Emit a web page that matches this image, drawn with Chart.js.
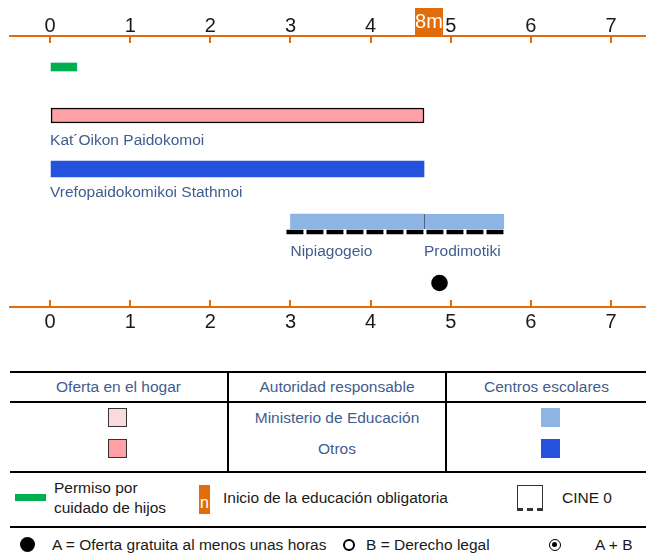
<!DOCTYPE html>
<html><head><meta charset="utf-8">
<script src="https://cdn.jsdelivr.net/npm/chart.js@4/dist/chart.umd.min.js"></script>
<style>
body{margin:0;background:#fff;width:646px;height:560px;position:relative;overflow:hidden;font-family:'Liberation Sans',Arial,sans-serif;color:#1a1a1a;}
#c{position:absolute;left:0;top:0;}
.hl{position:absolute;background:#000;height:2px;}
.vl{position:absolute;background:#000;width:2px;}
.t{position:absolute;font-size:15.5px;white-space:nowrap;line-height:20px;}
.c{text-align:center;}
.blue{color:#3f5d8f;}
.sq{position:absolute;width:19px;height:19px;box-sizing:border-box;}
</style></head><body>
<canvas id="c" width="646" height="340"></canvas>

<!-- legend table -->
<div class="hl" style="left:10px;top:371px;width:636px"></div>
<div class="hl" style="left:10px;top:401px;width:636px"></div>
<div class="vl" style="left:227px;top:371px;height:100px"></div>
<div class="vl" style="left:445px;top:371px;height:100px"></div>
<div class="t c blue" style="left:10px;width:217px;top:377px">Oferta en el hogar</div>
<div class="t c blue" style="left:229px;width:216px;top:377px">Autoridad responsable</div>
<div class="t c blue" style="left:447px;width:199px;top:377px">Centros escolares</div>
<div class="sq" style="left:108px;top:408px;background:#fadadd;border:1px solid #333"></div>
<div class="sq" style="left:108px;top:439px;background:#ff9fa6;border:1px solid #333"></div>
<div class="t c blue" style="left:229px;width:216px;top:408px">Ministerio de Educación</div>
<div class="t c blue" style="left:229px;width:216px;top:439px">Otros</div>
<div class="sq" style="left:541px;top:408px;background:#8db4e2"></div>
<div class="sq" style="left:541px;top:439px;background:#2452dc"></div>

<div class="hl" style="left:10px;top:471px;width:636px"></div>
<div style="position:absolute;left:15px;top:494px;width:31px;height:7px;background:#00b050"></div>
<div class="t" style="left:54px;top:478px">Permiso por<br>cuidado de hijos</div>
<div style="position:absolute;left:199px;top:485px;width:11px;height:29px;background:#e36c0a;color:#fff;font-size:16px;line-height:16px;text-align:center;"><div style="position:absolute;left:0;width:11px;top:10px">n</div></div>
<div class="t" style="left:223px;top:488px">Inicio de la educación obligatoria</div>
<div style="position:absolute;left:517px;top:485px;width:26px;height:26px;box-sizing:border-box;border:1px solid #333;border-bottom:3px dashed #333;"></div>
<div class="t" style="left:562px;top:488px">CINE 0</div>
<div class="hl" style="left:10px;top:526px;width:636px"></div>

<div style="position:absolute;left:20px;top:537px;width:15px;height:15px;border-radius:50%;background:#000"></div>
<div class="t" style="left:52px;top:535px">A = Oferta gratuita al menos unas horas</div>
<div style="position:absolute;left:343px;top:539px;width:12px;height:12px;box-sizing:border-box;border-radius:50%;border:2px solid #000"></div>
<div class="t" style="left:366px;top:535px">B = Derecho legal</div>
<div style="position:absolute;left:549px;top:539px;width:12px;height:12px;box-sizing:border-box;border-radius:50%;border:1.5px solid #000"><div style="position:absolute;left:2px;top:2px;width:5px;height:5px;border-radius:50%;background:#000"></div></div>
<div class="t" style="left:595px;top:535px">A + B</div>

<script>
// ---- data ----
const tickValues = [0, 1, 2, 3, 4, 5, 6, 7];
const compulsoryStart = 4 + 8 / 12;
const compulsoryLabel = '8m';
const leaveRange = [0, 4 / 12];
const homeCareRange = [0, 4 + 8 / 12];
const homeCareLabel = 'Kat´Oikon Paidokomoi';
const centreRange = [0, 4 + 8 / 12];
const centreLabel = 'Vrefopaidokomikoi Stathmoi';
const nipiagogeioRange = [3, 4 + 8 / 12];
const prodimotikiRange = [4 + 8 / 12, 5 + 8 / 12];
const schoolLabels = ['Nipiagogeio', 'Prodimotiki'];
const isced0Range = [2.95, 5 + 8 / 12];
const freeOfferAges = [4.86];

// ---- layout (vertical rows, in px from chart-area top) ----
const rows = {leave: 31, home: 79.5, homeLabel: 105, centre: 133, centreLabel: 157,
  school: 185.5, isced: 196, schoolLabel: 216, free: 247};

const FONT = "'Liberation Sans', Arial, sans-serif";
const ORANGE = '#e36c0a';
const LABEL = '#3f5d8f';

const annot = {
  id: 'annot',
  afterDraw(chart) {
    const {ctx, scales: {x, y}} = chart;
    ctx.save();
    ctx.font = `15.5px ${FONT}`;
    ctx.fillStyle = LABEL;
    ctx.textBaseline = 'middle';
    ctx.textAlign = 'left';
    ctx.fillText(homeCareLabel, x.getPixelForValue(homeCareRange[0]), y.getPixelForValue(rows.homeLabel));
    ctx.fillText(centreLabel, x.getPixelForValue(centreRange[0]), y.getPixelForValue(rows.centreLabel));
    ctx.fillText(schoolLabels[0], x.getPixelForValue(nipiagogeioRange[0]), y.getPixelForValue(rows.schoolLabel));
    ctx.fillText(schoolLabels[1], x.getPixelForValue(prodimotikiRange[0]), y.getPixelForValue(rows.schoolLabel));
    // compulsory start marker
    const px = x.getPixelForValue(compulsoryStart);
    const bx = px - 9, bw = 28, by = 8, bh = x.bottom - 1 - 8;
    ctx.fillStyle = ORANGE;
    ctx.fillRect(bx, by, bw, bh);
    ctx.fillStyle = '#fff';
    ctx.font = `20px ${FONT}`;
    ctx.textAlign = 'center';
    ctx.fillText(compulsoryLabel, bx + bw / 2, by + bh / 2 + 1);
    ctx.restore();
  }
};

const axisCommon = (pos, h, pad) => ({
  type: 'linear', position: pos, min: -0.5, max: 7.437, bounds: 'data', offset: false,
  afterBuildTicks: s => { s.ticks = tickValues.map(v => ({value: v})); },
  afterFit: s => { s.height = h; s.paddingLeft = 0; s.paddingRight = 0; },
  border: {color: ORANGE, width: 2},
  grid: {drawOnChartArea: false, offset: false, color: ORANGE, lineWidth: 2, tickLength: -7},
  ticks: {font: {family: FONT, size: 20}, color: '#1a1a1a', padding: pad, maxRotation: 0, callback: v => String(v)}
});

new Chart(document.getElementById('c'), {
  type: 'bar',
  data: {
    datasets: [
      {type: 'bar', indexAxis: 'y', grouped: false, data: [{x: leaveRange, y: rows.leave}],
        backgroundColor: '#00b050', barThickness: 8, xAxisID: 'x', yAxisID: 'y'},
      {type: 'bar', indexAxis: 'y', grouped: false, data: [{x: homeCareRange, y: rows.home}],
        backgroundColor: '#ff9fa6', borderColor: '#000', borderWidth: 1.5, borderSkipped: false,
        barThickness: 15, xAxisID: 'x', yAxisID: 'y'},
      {type: 'bar', indexAxis: 'y', grouped: false, data: [{x: centreRange, y: rows.centre}],
        backgroundColor: '#2452dc', barThickness: 16, xAxisID: 'x', yAxisID: 'y'},
      {type: 'bar', indexAxis: 'y', grouped: false, data: [{x: nipiagogeioRange, y: rows.school}],
        backgroundColor: '#8db4e2', barThickness: 15, xAxisID: 'x', yAxisID: 'y'},
      {type: 'bar', indexAxis: 'y', grouped: false, data: [{x: prodimotikiRange, y: rows.school}],
        backgroundColor: '#8db4e2', borderColor: '#000', borderWidth: {left: 1, right: 0, top: 0, bottom: 0},
        borderSkipped: false, barThickness: 15, xAxisID: 'x', yAxisID: 'y'},
      {type: 'line', data: isced0Range.map(v => ({x: v, y: rows.isced})),
        borderColor: '#000', borderWidth: 4.5, borderDash: [17, 3], pointRadius: 0, fill: false,
        xAxisID: 'x', yAxisID: 'y'},
      {type: 'scatter', data: freeOfferAges.map(v => ({x: v, y: rows.free})),
        backgroundColor: '#000', borderWidth: 0, pointRadius: 8.3, xAxisID: 'x', yAxisID: 'y'}
    ]
  },
  options: {
    responsive: false, animation: false, devicePixelRatio: 1,
    layout: {autoPadding: false, padding: {left: 10, right: 0, top: 0, bottom: 0}},
    plugins: {legend: {display: false}, tooltip: {enabled: false}},
    scales: {
      x: axisCommon('top', 36, 5),
      x2: axisCommon('bottom', 33, 10),
      y: {type: 'linear', min: 0, max: 271, bounds: 'data', offset: false, reverse: true, display: false,
        grid: {offset: false}}
    }
  },
  plugins: [annot]
});
</script>
</body></html>
